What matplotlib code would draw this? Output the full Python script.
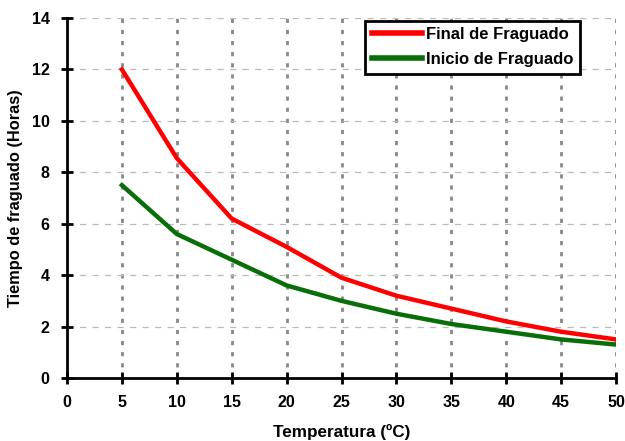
import matplotlib
matplotlib.use("Agg")
import matplotlib.pyplot as plt

temps = [5, 10, 15, 20, 25, 30, 35, 40, 45, 50]
final_fraguado = [12.0, 8.55, 6.2, 5.1, 3.9, 3.2, 2.7, 2.2, 1.8, 1.5]
inicio_fraguado = [7.5, 5.6, 4.6, 3.6, 3.0, 2.5, 2.1, 1.8, 1.5, 1.3]
xticks = [0, 5, 10, 15, 20, 25, 30, 35, 40, 45, 50]
yticks = [0, 2, 4, 6, 8, 10, 12, 14]

plt.rcParams['font.family'] = ['Liberation Sans', 'DejaVu Sans']
plt.rcParams['font.weight'] = 'bold'

fig = plt.figure(figsize=(6.25, 4.41), dpi=100)
ax = fig.add_axes([0.1072, 0.1429, 0.8784, 0.8161])

ax.plot(temps, final_fraguado, color='#ff0000', lw=3.2, label='Final de Fraguado', zorder=3)
ax.plot(temps, inicio_fraguado, color='#086e08', lw=3.2, label='Inicio de Fraguado', zorder=3)

ax.set_xlim(0, 50)
ax.set_ylim(0, 14)
ax.set_xticks(xticks)
ax.set_yticks(yticks)

for x in xticks[1:]:
    ax.axvline(x, color='#888888', lw=2.0, ls=(0, (1.5, 2.5)), zorder=1)
for y in yticks[1:]:
    ax.axhline(y, color='#bbbbbb', lw=0.9, ls=(0, (5, 5)), zorder=1)

for s in ['top', 'right']:
    ax.spines[s].set_visible(False)
for s in ['left', 'bottom']:
    ax.spines[s].set_linewidth(2)
    ax.spines[s].set_zorder(4)

ax.tick_params(axis='both', direction='inout', length=9, width=2, labelsize=11.5, pad=8)
for lab in ax.get_xticklabels() + ax.get_yticklabels():
    lab.set_fontweight('bold')

ax.set_xlabel('Temperatura (ºC)', fontsize=12.3, fontweight='bold', labelpad=10)
ax.set_ylabel('Tiempo de fraguado (Horas)', fontsize=11.8, fontweight='bold', labelpad=6)

leg = ax.legend(loc='upper right', bbox_to_anchor=(0.934, 0.993), fontsize=12,
                frameon=True, fancybox=False, edgecolor='black', framealpha=1,
                handlelength=3.0, handletextpad=0.25, borderpad=0.4, labelspacing=0.6,
                borderaxespad=0.0)
leg.get_frame().set_linewidth(2)
for line in leg.get_lines():
    line.set_linewidth(4)
for t in leg.get_texts():
    t.set_fontweight('bold')
leg.set_zorder(5)

fig.savefig('out.png', dpi=100)
